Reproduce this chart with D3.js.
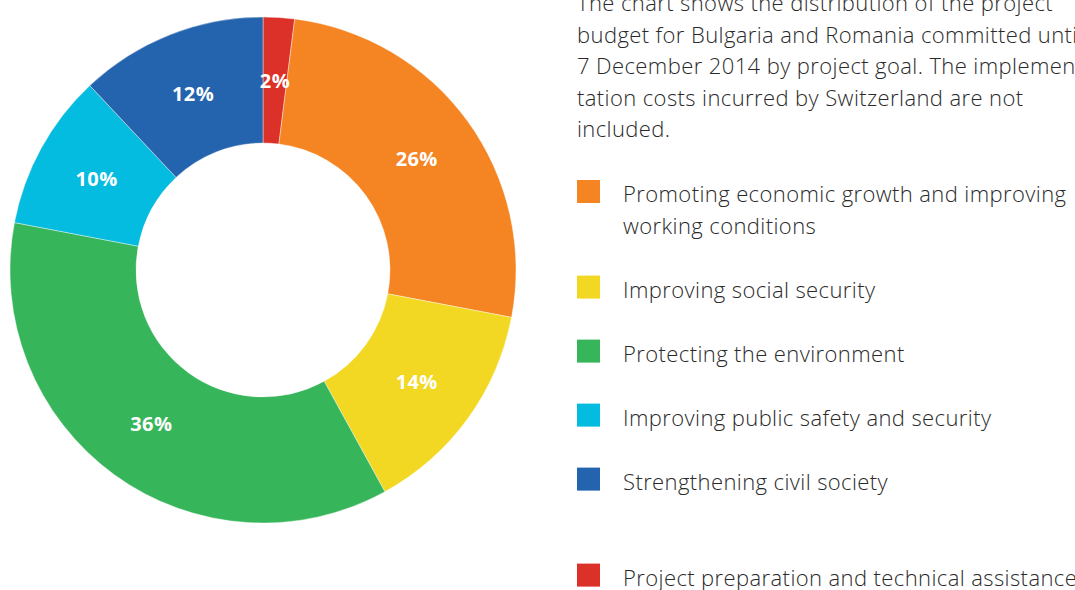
<!DOCTYPE html>
<html>
<head>
<meta charset="utf-8">
<script src="https://cdn.jsdelivr.net/npm/d3@7/dist/d3.min.js"></script>
<style>
  html, body { margin: 0; padding: 0; background: #fff; overflow: hidden; }
  svg { display: block; }
  .note, .legend text { font-family: "Open Sans", "Noto Sans", sans-serif; font-weight: 300; fill: #2a2a2a; letter-spacing: 0.4px; }
  .slice-label { font-family: "Open Sans", "Noto Sans", sans-serif; font-weight: 700; fill: #fff; letter-spacing: 0.4px; }
</style>
</head>
<body>
<script>
// Budget share per project goal, clockwise from 12 o'clock
var goals   = ['Project preparation and technical assistance',
               'Promoting economic growth and improving working conditions',
               'Improving social security',
               'Protecting the environment',
               'Improving public safety and security',
               'Strengthening civil society'];
var shares  = [2, 26, 14, 36, 10, 12];
var colours = ['#dc3129', '#f58423', '#f3d823', '#37b55a', '#04bbe0', '#2463ad'];

// legend order (index into goals) and how each label wraps
var legendOrder = [1, 2, 3, 4, 5, 0];
var legendLines = [
    ['Promoting economic growth and improving', 'working conditions'],
    ['Improving social security'],
    ['Protecting the environment'],
    ['Improving public safety and security'],
    ['Strengthening civil society'],
    ['Project preparation and technical assistance']
];
var noteLines = [
    'The chart shows the distribution of the project',
    'budget for Bulgaria and Romania committed until',
    '7 December 2014 by project goal. The implemen-',
    'tation costs incurred by Switzerland are not',
    'included.'
];

var width = 1075, height = 590;
var cx = 263, cy = 270;
var outerR = 253, innerR = 127, labelR = 190;

var svg = d3.select('body').append('svg')
    .attr('width', width)
    .attr('height', height);

var data = goals.map(function(g, i) {
    return { goal: g, value: shares[i], colour: colours[i] };
});

var pie = d3.pie()
    .sort(null)
    .value(function(d) { return d.value; });

var arc = d3.arc().innerRadius(innerR).outerRadius(outerR);
var labelArc = d3.arc().innerRadius(labelR).outerRadius(labelR);

var donut = svg.append('g')
    .attr('transform', 'translate(' + cx + ',' + cy + ')');

donut.selectAll('path')
    .data(pie(data))
    .enter().append('path')
    .attr('d', arc)
    .attr('fill', function(d) { return d.data.colour; })
    .attr('stroke', '#fff')
    .attr('stroke-width', 0.4);

donut.selectAll('text')
    .data(pie(data))
    .enter().append('text')
    .attr('class', 'slice-label')
    .attr('transform', function(d) { return 'translate(' + labelArc.centroid(d) + ')'; })
    .attr('text-anchor', 'middle')
    .attr('dy', '0.36em')
    .style('font-size', '20px')
    .text(function(d) { return d.data.value + '%'; });

// note text, top right
var note = svg.append('text')
    .attr('class', 'note')
    .attr('x', 577)
    .style('font-size', '22px');
note.selectAll('tspan')
    .data(noteLines)
    .enter().append('tspan')
    .attr('x', 577)
    .attr('y', function(d, i) { return 11 + i * 31.6; })
    .text(function(d) { return d; });

// legend
var legend = svg.append('g').attr('class', 'legend');
var y = 180;
legendOrder.forEach(function(idx, k) {
    if (k === legendOrder.length - 1) y += 32;   // extra gap before the last entry
    var lines = legendLines[k];
    var item = legend.append('g').attr('transform', 'translate(577,' + y + ')');
    item.append('rect')
        .attr('width', 23)
        .attr('height', 23)
        .attr('fill', colours[idx]);
    var t = item.append('text').style('font-size', '22px');
    t.selectAll('tspan')
        .data(lines)
        .enter().append('tspan')
        .attr('x', 46)
        .attr('y', function(d, i) { return 22 + i * 31.6; })
        .text(function(d) { return d; });
    y += 64 + (lines.length - 1) * 31.6;
});
</script>
</body>
</html>
